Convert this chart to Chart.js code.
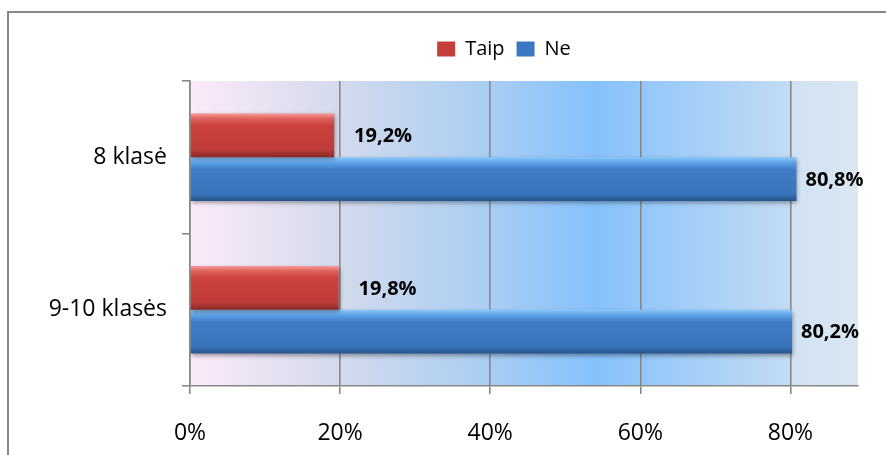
<!DOCTYPE html>
<html><head><meta charset="utf-8">
<script src="https://cdn.jsdelivr.net/npm/chart.js@4/dist/chart.umd.min.js"></script>
<style>html,body{margin:0;padding:0;background:#fff;}#wrap{width:886px;height:455px;position:relative;}</style>
</head><body><div id="wrap"><canvas id="c" width="886" height="455"></canvas></div>
<script>
const categories = ['8 klasė', '9-10 klasės'];
const seriesNames = ['Taip', 'Ne'];
const taipValues = [19.2, 19.8];
const neValues = [80.8, 80.2];
const tickValues = [0, 20, 40, 60, 80];
const tickLabels = ['0%', '20%', '40%', '60%', '80%'];
const axisMax = 89;

const FONT = '"Open Sans", "DejaVu Sans", sans-serif';
const baseColors = ['#c63e3a', '#3b78c2'];
const barStops = [
  [[0,'#f59c99'],[0.12,'#e0605c'],[0.28,'#c9413d'],[0.82,'#c03c38'],[1,'#86292a']],
  [[0,'#8cc8fb'],[0.12,'#5ea2e8'],[0.28,'#3e7dc6'],[0.82,'#3975bd'],[1,'#27548c']]
];
const labelOffsets = [20, 9];

function fmt(v){ return v.toFixed(1).replace('.', ',') + '%'; }

const bgPlugin = {
  id: 'bg',
  afterLayout(chart) {
    const lg = chart.legend;
    if (lg) {
      lg.left += 75; lg.right += 75;
      lg.top -= 12; lg.bottom -= 12;
    }
  },
  beforeDraw(chart) {
    const ctx = chart.ctx, a = chart.chartArea;
    ctx.save();
    ctx.fillStyle = '#fff';
    ctx.fillRect(0, 0, chart.width, chart.height);
    const g = ctx.createLinearGradient(a.left, 0, a.right, 0);
    g.addColorStop(0, '#fdeafa');
    g.addColorStop(0.223, '#d3daec');
    g.addColorStop(0.448, '#a9cdf3');
    g.addColorStop(0.607, '#86c1fc');
    g.addColorStop(0.897, '#c2dbf4');
    g.addColorStop(0.9, '#d2e2f3');
    g.addColorStop(1, '#dae6f2');
    ctx.fillStyle = g;
    ctx.fillRect(a.left, a.top, a.right - a.left, a.bottom - a.top);
    ctx.strokeStyle = '#888';
    ctx.lineWidth = 2;
    ctx.beginPath();
    ctx.moveTo(8, chart.height);
    ctx.lineTo(8, 12);
    ctx.lineTo(chart.width, 12);
    ctx.stroke();
    ctx.restore();
  }
};

const barStylePlugin = {
  id: 'barStyle',
  beforeDatasetsDraw(chart) {
    const ctx = chart.ctx;
    chart.data.datasets.forEach((ds, di) => {
      const meta = chart.getDatasetMeta(di);
      meta.data.forEach(el => {
        const top = el.y - el.height / 2, bot = el.y + el.height / 2;
        const g = ctx.createLinearGradient(0, top, 0, bot);
        barStops[di].forEach(s => g.addColorStop(s[0], s[1]));
        el.options.backgroundColor = g;
      });
    });
    ctx.save();
    ctx.shadowColor = 'rgba(0,0,0,0.35)';
    ctx.shadowBlur = 4;
    ctx.shadowOffsetX = 1;
    ctx.shadowOffsetY = 2;
  },
  afterDatasetsDraw(chart) {
    const ctx = chart.ctx;
    ctx.restore();
    ctx.save();
    ctx.font = 'bold 20px ' + FONT;
    ctx.fillStyle = '#000';
    ctx.textAlign = 'left';
    ctx.textBaseline = 'middle';
    chart.data.datasets.forEach((ds, di) => {
      const meta = chart.getDatasetMeta(di);
      meta.data.forEach((el, i) => {
        ctx.fillText(fmt(ds.data[i]), el.x + labelOffsets[di], el.y + 1);
      });
    });
    ctx.restore();
  }
};

new Chart(document.getElementById('c'), {
  type: 'bar',
  data: {
    labels: categories,
    datasets: [
      { label: seriesNames[0], data: taipValues, backgroundColor: ctx => baseColors[0], borderWidth: 0 },
      { label: seriesNames[1], data: neValues, backgroundColor: ctx => baseColors[1], borderWidth: 0 }
    ]
  },
  options: {
    indexAxis: 'y',
    responsive: false,
    animation: false,
    datasets: { bar: { barPercentage: 1, categoryPercentage: 0.575 } },
    layout: { padding: { left: 0, right: 28, top: 39, bottom: 0 } },
    plugins: {
      tooltip: { enabled: false },
      legend: {
        position: 'top',
        labels: { boxWidth: 18, boxHeight: 15, padding: 12, color: '#000', font: { family: FONT, size: 20 } }
      }
    },
    scales: {
      x: {
        min: 0, max: axisMax,
        afterBuildTicks(scale) { scale.ticks = tickValues.map(v => ({ value: v })); },
        afterFit(scale) { scale.height = 69; },
        grid: { color: '#888', lineWidth: 1.6, tickLength: 8, drawTicks: true },
        border: { display: true, color: '#888', width: 1.6 },
        ticks: {
          padding: 26, color: '#000', font: { family: FONT, size: 23 },
          callback(v) { const i = tickValues.indexOf(v); return i >= 0 ? tickLabels[i] : ''; }
        }
      },
      y: {
        afterFit(scale) { scale.width = 190; },
        grid: { offset: true, drawOnChartArea: false, color: '#888', lineWidth: 1.6, tickLength: 8 },
        border: { display: true, color: '#888', width: 1.6 },
        ticks: { padding: 15, color: '#000', font: { family: FONT, size: 23 } }
      }
    }
  },
  plugins: [bgPlugin, barStylePlugin]
});
</script>
</body></html>
